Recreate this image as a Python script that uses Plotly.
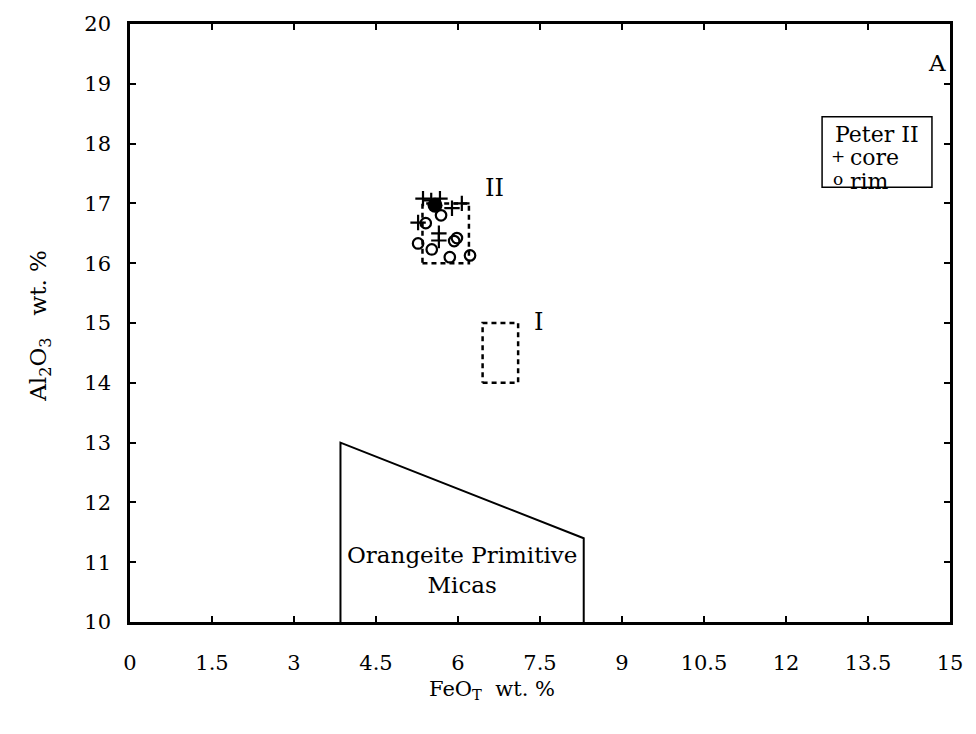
import plotly.graph_objects as go

# Peter II mica analyses, FeO(total) vs Al2O3 (wt. %)
core_feo = [5.36, 5.51, 5.67, 5.89, 6.07, 5.27, 5.65, 5.65]
core_al = [17.08, 17.05, 17.08, 16.92, 17.00, 16.68, 16.50, 16.38]
rim_feo = [5.69, 5.41, 5.27, 5.52, 5.93, 5.98, 5.85, 6.22]
rim_al = [16.80, 16.67, 16.33, 16.23, 16.37, 16.42, 16.10, 16.13]
mean_feo = [5.58]
mean_al = [16.97]

# Compositional fields
field_ii_x = [5.35, 6.20, 6.20, 5.35, 5.35]
field_ii_y = [16.0, 16.0, 17.0, 17.0, 16.0]
field_i_x = [6.45, 7.10, 7.10, 6.45, 6.45]
field_i_y = [14.0, 14.0, 15.0, 15.0, 14.0]
orangeite_x = [3.85, 3.85, 8.30, 8.30]
orangeite_y = [10.0, 13.0, 11.4, 10.0]

x_ticks = [0, 1.5, 3, 4.5, 6, 7.5, 9, 10.5, 12, 13.5, 15]
x_tick_text = ["0", "1.5", "3", "4.5", "6", "7.5", "9", "10.5", "12", "13.5", "15"]
y_ticks = list(range(10, 21))

FONT = "DejaVu Serif"

fig = go.Figure()

fig.add_trace(go.Scatter(x=orangeite_x, y=orangeite_y, mode="lines",
                         line=dict(color="black", width=2), hoverinfo="skip"))
fig.add_trace(go.Scatter(x=field_ii_x, y=field_ii_y, mode="lines",
                         line=dict(color="black", width=2.5, dash="5px,4px"), hoverinfo="skip"))
fig.add_trace(go.Scatter(x=field_i_x, y=field_i_y, mode="lines",
                         line=dict(color="black", width=2.5, dash="5px,4px"), hoverinfo="skip"))

fig.add_trace(go.Scatter(x=core_feo, y=core_al, mode="markers", name="core",
                         marker=dict(symbol="cross-thin-open", size=11, color="black",
                                     line=dict(color="black", width=2.2))))
fig.add_trace(go.Scatter(x=rim_feo, y=rim_al, mode="markers", name="rim",
                         marker=dict(symbol="circle-open", size=10.5, color="black",
                                     line=dict(color="black", width=2.2))))
fig.add_trace(go.Scatter(x=mean_feo, y=mean_al, mode="markers",
                         marker=dict(symbol="circle", size=15, color="black")))

# Legend box for the Peter II symbols
shapes = [dict(type="rect", xref="x", yref="y", x0=12.66, x1=14.67, y0=17.27, y1=18.45,
               line=dict(color="black", width=1.5), fillcolor="white", layer="below")]

annotations = [
    dict(x=6.66, y=17.25, text="II", showarrow=False, font=dict(size=24)),
    dict(x=7.48, y=15.02, text="I", showarrow=False, font=dict(size=24)),
    dict(x=14.76, y=19.35, text="A", showarrow=False, font=dict(size=23)),
    dict(x=6.08, y=10.87, text="Orangeite Primitive<br>Micas", showarrow=False,
         align="center", font=dict(size=23)),
    # legend entries
    dict(x=12.86, y=18.16, xanchor="left", yanchor="middle", text="Peter II",
         showarrow=False, font=dict(size=22)),
    dict(x=12.95, y=17.79, xanchor="center", yanchor="middle", text="+",
         showarrow=False, font=dict(size=17)),
    dict(x=13.13, y=17.77, xanchor="left", yanchor="middle", text="core",
         showarrow=False, font=dict(size=22)),
    dict(x=12.95, y=17.41, xanchor="center", yanchor="middle", text="o",
         showarrow=False, font=dict(size=17)),
    dict(x=13.13, y=17.37, xanchor="left", yanchor="middle", text="rim",
         showarrow=False, font=dict(size=22)),
    # axis titles
    dict(xref="paper", yref="paper", x=0.441, y=-0.113, xanchor="center", yanchor="middle",
         text="FeO<sub>T</sub>&nbsp;&nbsp;wt. %", showarrow=False, font=dict(size=21)),
    dict(xref="paper", yref="paper", x=-0.110, y=0.495, xanchor="center", yanchor="middle",
         textangle=-90, text="Al<sub>2</sub>O<sub>3</sub>&nbsp;&nbsp;&nbsp;wt. %",
         showarrow=False, font=dict(size=23)),
]

fig.update_layout(
    width=976, height=734,
    margin=dict(l=130, r=26, t=20, b=112),
    paper_bgcolor="white", plot_bgcolor="white",
    showlegend=False,
    font=dict(family=FONT, color="black", size=20),
    annotations=annotations,
    shapes=shapes,
)
fig.update_xaxes(range=[0, 15], tickvals=x_ticks, ticktext=x_tick_text,
                 ticks="inside", ticklen=6, tickwidth=1.5, tickcolor="black",
                 showline=True, linecolor="black", linewidth=2.5, mirror="ticks",
                 showgrid=False, zeroline=False, tickfont=dict(size=21),
                 ticklabelstandoff=20)
fig.update_yaxes(range=[10, 20], tickvals=y_ticks,
                 ticks="inside", ticklen=6, tickwidth=1.5, tickcolor="black",
                 showline=True, linecolor="black", linewidth=2.5, mirror="ticks",
                 showgrid=False, zeroline=False, tickfont=dict(size=21),
                 ticklabelstandoff=12)

fig.write_html("out.html")
